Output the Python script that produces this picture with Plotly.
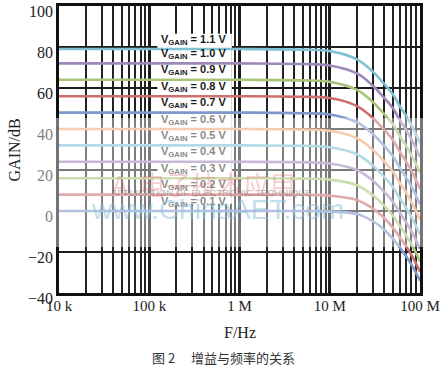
import plotly.graph_objects as go

# ---------------- data ----------------
freq_hz = [1e4, 1e6, 5e6, 1e7, 2e7, 3e7, 4e7, 5e7, 6e7, 7e7, 8e7, 9e7, 1e8]

vgain_labels = ["0.1", "0.2", "0.3", "0.4", "0.5", "0.6", "0.7", "0.8", "0.9", "1.0", "1.1"]
flat_gain_db = [0, 8, 16, 24, 32, 40, 48, 56, 64, 72, 79]

gain_01 = [0, 0, 0, -0.3, -1.5, -5, -9, -13.5, -18, -22, -26, -30, -34]
gain_02 = [8, 8, 7.9, 7.5, 5.4, 1.2, -3.4, -8.1, -13, -17.2, -21.3, -25.5, -29.6]
gain_03 = [16, 16, 15.8, 15.3, 12.6, 7.7, 2.6, -2.2, -7.5, -11.8, -16.1, -20.3, -24.6]
gain_04 = [24, 24, 23.8, 23.2, 20, 14.8, 9.4, 4.5, -1, -5.4, -9.7, -14.1, -18.4]
gain_05 = [32, 32, 31.8, 31.1, 27.7, 22.2, 16.6, 11.7, 6, 1.6, -2.8, -7.2, -11.6]
gain_06 = [40, 40, 39.7, 39.1, 35.5, 29.9, 24.2, 19.3, 13.5, 9.1, 4.6, 0.2, -4.2]
gain_07 = [48, 48, 47.7, 47.1, 43.3, 37.6, 31.8, 26.8, 21, 16.5, 12.1, 7.6, 3.2]
gain_08 = [56, 56, 55.7, 55.1, 51.2, 45.4, 39.6, 34.6, 28.7, 24.2, 19.8, 15.3, 10.8]
gain_09 = [64, 64, 63.7, 63, 59.1, 53.2, 47.3, 42.3, 36.4, 31.9, 27.4, 23, 18.5]
gain_10 = [72, 72, 71.7, 71, 67.1, 61.1, 55.2, 50.2, 44.2, 39.7, 35.2, 30.7, 26.2]
gain_11 = [79, 79, 78.7, 78, 74, 68, 62, 57, 51, 46.5, 42, 37.5, 33]

series = [gain_01, gain_02, gain_03, gain_04, gain_05, gain_06,
          gain_07, gain_08, gain_09, gain_10, gain_11]

x_tick_vals = [1e4, 1e5, 1e6, 1e7, 1e8]
x_tick_text = ["10 k", "100 k", "1 M", "10 M", "100 M"]
y_tick_vals = [-40, -20, 0, 20, 40, 60, 80, 100]

# ---------------- styling ----------------
palette = ["#7f97cb", "#cc6f6d", "#a9c47a", "#9d88ba", "#7fc0d2", "#f2a576",
           "#7f97cb", "#cc6f6d", "#a9c47a", "#9d88ba", "#7fc0d2"]
label_colors = ["#8a8a8a"] * 6 + ["#1a1a1a"] * 5
serif = "Liberation Serif"
sans = "Liberation Sans"

fig = go.Figure()

# white panel behind the V_GAIN labels (covers the grid, curves pass over it)
fig.add_trace(go.Scatter(
    x=[10**5.09, 10**5.915, 10**5.915, 10**5.09, 10**5.09],
    y=[3.5, 3.5, 86.5, 86.5, 3.5], mode="lines", fill="toself",
    fillcolor="white", line=dict(width=0, color="white"),
    showlegend=False, hoverinfo="skip"))

for vals, col, lab in zip(series, palette, vgain_labels):
    fig.add_trace(go.Scatter(
        x=freq_hz, y=vals, mode="lines", name=f"VGAIN = {lab} V",
        line=dict(color=col, width=2.6, shape="spline", smoothing=1.0),
        showlegend=False, hoverinfo="skip"))

annotations = []
for lab, g0, tc in zip(vgain_labels, flat_gain_db, label_colors):
    annotations.append(dict(
        x=5.49, y=g0 + 4.6, xref="x", yref="y", xanchor="center", yanchor="middle",
        text=f"<b>V<sub>GAIN</sub> = {lab} V</b>", showarrow=False,
        font=dict(family=sans, size=11, color=tc)))

# watermark texts
annotations += [
    dict(x=0.40, y=0.38, xref="paper", yref="paper", text="A  电子技术应用", showarrow=False,
         font=dict(family="Noto Sans CJK SC", size=26, color="rgba(220,90,90,0.30)")),
    dict(x=0.42, y=0.325, xref="paper", yref="paper", text="APPLICATION OF ELECTRONIC TECHNIQUE",
         showarrow=False, font=dict(family=sans, size=9.5, color="rgba(120,120,120,0.55)")),
    dict(x=0.44, y=0.23, xref="paper", yref="paper", text="www.ChinaAET.com", showarrow=False,
         font=dict(family=sans, size=28, color="rgba(140,195,220,0.55)")),
]

# axis titles & caption
annotations += [
    dict(x=-0.122, y=0.5, xref="paper", yref="paper", text="GAIN/dB", textangle=-90,
         xanchor="center", yanchor="middle",
         showarrow=False, font=dict(family=serif, size=16, color="#222")),
    dict(x=0.5, y=-0.139, xref="paper", yref="paper", text="F/Hz", showarrow=False,
         xanchor="center", yanchor="middle",
         font=dict(family=serif, size=16, color="#222")),
    dict(x=0.455, y=-0.226, xref="paper", yref="paper", text="图 2\u3000 增益与频率的关系",
         xanchor="center", yanchor="middle",
         showarrow=False, font=dict(family="Noto Sans CJK SC", size=13, color="#333")),
]

shapes = [
    # washed-out band of the scanned original
    dict(type="rect", xref="paper", yref="paper", x0=-0.09, x1=1.03, y0=0.16, y1=0.61,
         fillcolor="rgba(255,255,255,0.42)", line=dict(width=0), layer="above"),
]

fig.update_layout(
    width=443, height=368,
    margin=dict(l=59, r=23, t=6, b=75),
    paper_bgcolor="white", plot_bgcolor="white",
    annotations=annotations, shapes=shapes,
    xaxis=dict(type="log", range=[4, 8], tickvals=x_tick_vals, ticktext=x_tick_text,
               showgrid=True, gridcolor="#1c1c1c", gridwidth=2.6,
               minor=dict(dtick="D1", showgrid=True, gridcolor="#222", gridwidth=1.6),
               showline=True, linecolor="#111", linewidth=2.5, mirror=True, automargin=False,
               ticks="", ticklabeloverflow="allow", ticklabelstandoff=-3,
               tickfont=dict(family=serif, size=15, color="#222")),
    yaxis=dict(range=[-40, 100], tickvals=y_tick_vals, showgrid=True, gridcolor="#1c1c1c",
               gridwidth=2, zeroline=False, showline=True, linecolor="#111", linewidth=2.5,
               mirror=True, ticks="", automargin=False, ticklabeloverflow="allow",
               ticklabelshift=5,
               tickfont=dict(family=serif, size=16, color="#222")),
)

fig.write_html("out.html", config={"displayModeBar": False},
               post_script="document.body.style.margin='0px';")
